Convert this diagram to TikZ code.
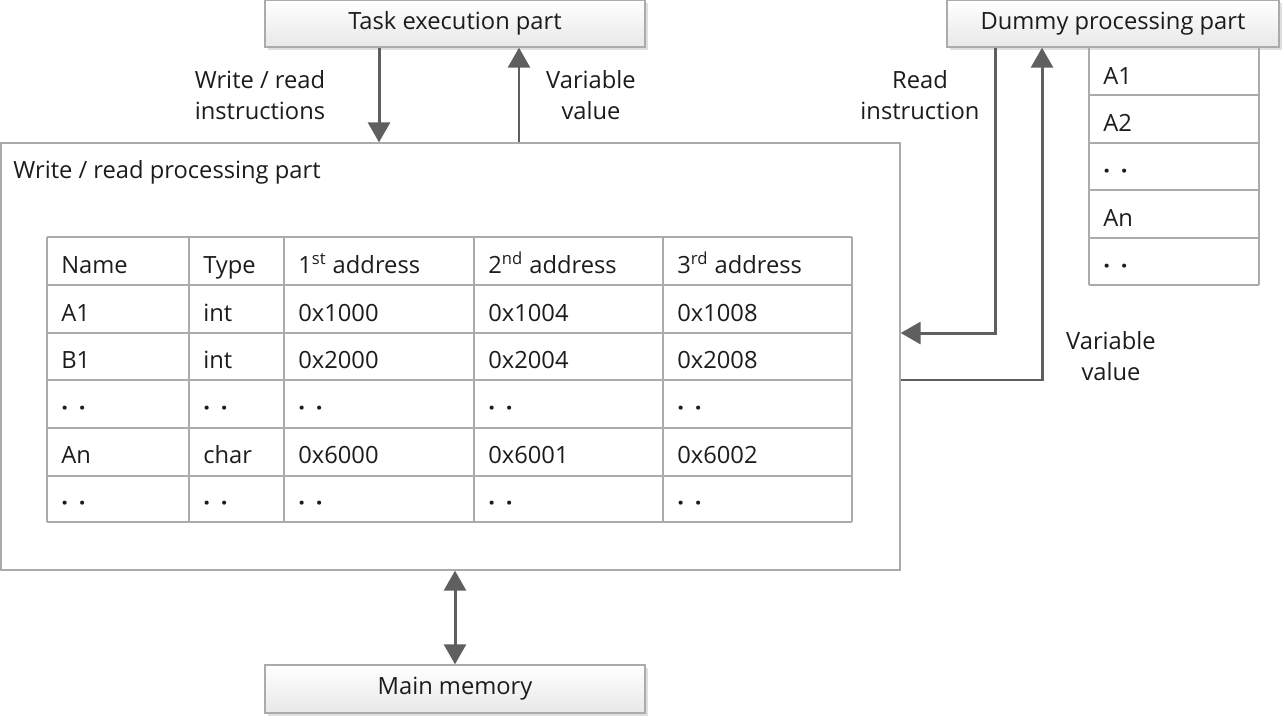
\documentclass[tikz,border=0pt]{standalone}
\usepackage{fontspec}
\setmainfont{Open Sans}
\usetikzlibrary{arrows.meta,shadows}
\definecolor{arrgray}{HTML}{5F5F5F}
\definecolor{linegray}{HTML}{ABABAB}
\definecolor{txt}{HTML}{1C1C1C}
\newcommand\twodots{{\bfseries ·\hspace{0.45em}·}}

\tikzset{
  partbox/.style={draw=linegray, line width=0.8pt, top color=white, bottom color=gray!18,
    drop shadow={opacity=0.25, shadow xshift=0.06cm, shadow yshift=-0.06cm},
    minimum width=7.6cm, minimum height=0.94cm, inner sep=0pt, text=txt},
  flow/.style={draw=arrgray, line width=1.7pt, -{Triangle[length=0.4cm, width=0.44cm]}},
  lbl/.style={align=center, text=txt, font=\fontsize{13.5}{18}\selectfont},
  cell/.style={anchor=base west, text=txt, inner sep=0pt},
}

\begin{document}
\begin{tikzpicture}[x=0.02cm, y=-0.02cm, font=\fontsize{13.5}{16}\selectfont]
  %%%%% START %%%%%
  \useasboundingbox (0,0) rectangle (1284,720);

  \node[partbox] (task) at (455,23.5) {Task execution part};
  \node[partbox, minimum width=6.64cm] (dummy) at (1113,23.5) {Dummy processing part};
  \node[partbox, minimum height=0.96cm] (mem) at (455,689) {Main memory};

  \node[draw=linegray, line width=0.8pt, minimum width=17.98cm, minimum height=8.54cm, inner sep=0pt] (wr) at (450.5,356.5) {};
  \node[cell] (wrtitle) at (13,178) {Write / read processing part};

  % table
  \foreach \y in {237,285,333,380,428,476,522}
    \draw[linegray, line width=0.8pt] (47,\y) -- (852,\y);
  \foreach \x in {47,189,284,474,663,852}
    \draw[linegray, line width=0.8pt] (\x,237) -- (\x,522);
  \foreach \n/\t/\a/\b/\c [count=\i] in {
      Name/Type/1\textsuperscript{st} address/2\textsuperscript{nd} address/3\textsuperscript{rd} address,
      A1/int/0x1000/0x1004/0x1008,
      B1/int/0x2000/0x2004/0x2008,
      \twodots/\twodots/\twodots/\twodots/\twodots,
      An/char/0x6000/0x6001/0x6002,
      \twodots/\twodots/\twodots/\twodots/\twodots} {
    \pgfmathsetmacro\yb{226.25+47.5*\i}
    \node[cell] (name\i) at (61,\yb) {\n};
    \node[cell] (type\i) at (203,\yb) {\t};
    \node[cell] (adra\i) at (298,\yb) {\a};
    \node[cell] (adrb\i) at (488,\yb) {\b};
    \node[cell] (adrc\i) at (677,\yb) {\c};
  }

  % dummy list
  \foreach \y in {47,95,143,190,238,285}
    \draw[linegray, line width=0.8pt] (1089,\y) -- (1259,\y);
  \draw[linegray, line width=0.8pt] (1089,47) -- (1089,285);
  \draw[linegray, line width=0.8pt] (1259,47) -- (1259,285);
  \foreach \v [count=\i] in {A1,A2,\twodots,An,\twodots} {
    \pgfmathsetmacro\yb{36.4+47.6*\i}
    \node[cell] (dvar\i) at (1103,\yb) {\v};
  }

  % connectors
  \draw[flow] ([xshift=-1.52cm]task.south) -- ([xshift=-1.52cm]task.south |- wr.north);
  \draw[flow] ([xshift=1.28cm]task.south |- wr.north) -- ([xshift=1.28cm]task.south);
  \draw[flow] ([xshift=-2.36cm]dummy.south) |- ([yshift=0.47cm]wr.east);
  \draw[flow] ([yshift=-0.47cm]wr.east) -| ([xshift=-1.42cm]dummy.south);
  \draw[flow, {Triangle[length=0.4cm, width=0.44cm]}-{Triangle[length=0.4cm, width=0.44cm]}] (mem.north |- wr.south) -- (mem.north);

  \node[lbl] (wrinstr) at (260,95) {Write / read\\instructions};
  \node[lbl] (varval) at (591,95) {Variable\\value};
  \node[lbl] (readinstr) at (920,95) {Read\\instruction};
  \node[lbl] (varvalb) at (1111,356) {Variable\\value};
  %%%%% END %%%%%
\end{tikzpicture}
\end{document}
